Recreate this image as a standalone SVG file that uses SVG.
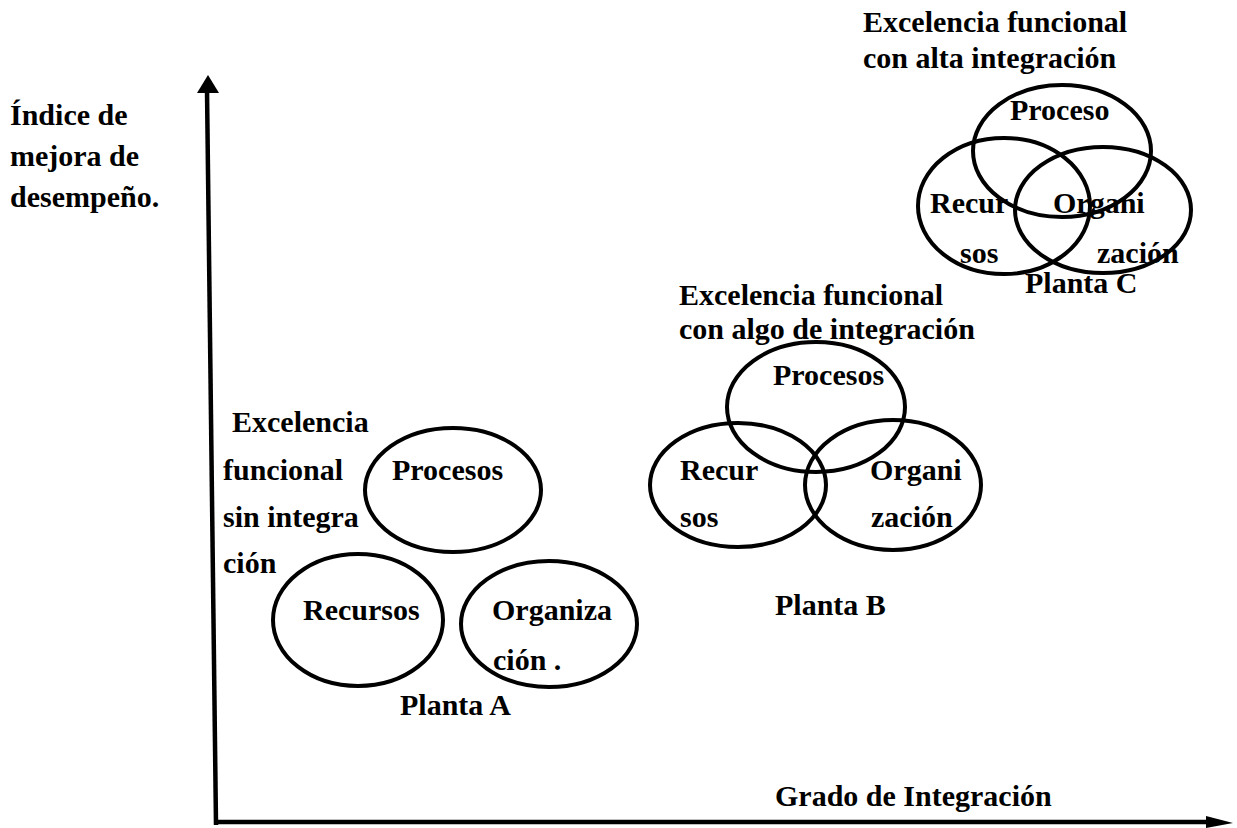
<svg xmlns="http://www.w3.org/2000/svg" width="1237" height="828" viewBox="0 0 1237 828">
  <style>
    .t { font-family: "Liberation Serif", "Times New Roman", serif; font-weight: bold; font-size: 30px; fill: #000; }
    .ring { fill: none; stroke: #000; stroke-width: 4; }
    .axis { stroke: #000; stroke-width: 4.5; fill: none; }
  </style>
  <rect width="1237" height="828" fill="#fff"/>

  <!-- axes -->
  <g id="axes">
    <line class="axis" x1="207" y1="90" x2="216" y2="825"/>
    <polygon points="208,75 197,93 219,93" fill="#000"/>
    <line class="axis" x1="214" y1="822" x2="1210" y2="822"/>
    <polygon points="1233,823 1206,816 1206,828" fill="#000"/>
  </g>

  <!-- axis labels -->
  <g id="y-label">
    <text class="t" x="10" y="125">Índice de</text>
    <text class="t" x="10" y="166">mejora de</text>
    <text class="t" x="10" y="207">desempeño.</text>
  </g>
  <g id="x-label">
    <text class="t" x="775" y="806">Grado de Integración</text>
  </g>

  <!-- Planta A: three separate circles -->
  <g id="planta-a">
    <text class="t" x="232" y="432">Excelencia</text>
    <text class="t" x="223" y="480">funcional</text>
    <text class="t" x="223" y="527">sin integra</text>
    <text class="t" x="223" y="573">ción</text>
    <ellipse class="ring" cx="453" cy="490" rx="88" ry="62"/>
    <text class="t" x="392" y="480">Procesos</text>
    <ellipse class="ring" cx="358" cy="620" rx="85" ry="66"/>
    <text class="t" x="303" y="620">Recursos</text>
    <ellipse class="ring" cx="549" cy="624" rx="88" ry="63"/>
    <text class="t" x="492" y="620">Organiza</text>
    <text class="t" x="493" y="670">ción .</text>
    <text class="t" x="400" y="715">Planta A</text>
  </g>

  <!-- Planta B: partially overlapping circles -->
  <g id="planta-b">
    <text class="t" x="679" y="305">Excelencia funcional</text>
    <text class="t" x="679" y="339">con algo de integración</text>
    <ellipse class="ring" cx="816" cy="407" rx="89" ry="65"/>
    <text class="t" x="773" y="385">Procesos</text>
    <ellipse class="ring" cx="738" cy="485" rx="88" ry="62"/>
    <text class="t" x="680" y="480">Recur</text>
    <text class="t" x="680" y="527">sos</text>
    <ellipse class="ring" cx="893" cy="485" rx="88" ry="65"/>
    <text class="t" x="870" y="480">Organi</text>
    <text class="t" x="871" y="527">zación</text>
    <text class="t" x="775" y="615">Planta B</text>
  </g>

  <!-- Planta C: strongly overlapping circles -->
  <g id="planta-c">
    <text class="t" x="863" y="32">Excelencia funcional</text>
    <text class="t" x="863" y="68">con alta integración</text>
    <ellipse class="ring" cx="1062" cy="151" rx="89" ry="66"/>
    <text class="t" x="1010" y="120">Proceso</text>
    <ellipse class="ring" cx="1004" cy="206" rx="86" ry="68"/>
    <text class="t" x="930" y="213">Recur</text>
    <text class="t" x="960" y="263">sos</text>
    <ellipse class="ring" cx="1103" cy="210" rx="88" ry="63"/>
    <text class="t" x="1053" y="213">Organi</text>
    <text class="t" x="1097" y="263">zación</text>
    <text class="t" x="1025" y="293">Planta C</text>
  </g>
</svg>
